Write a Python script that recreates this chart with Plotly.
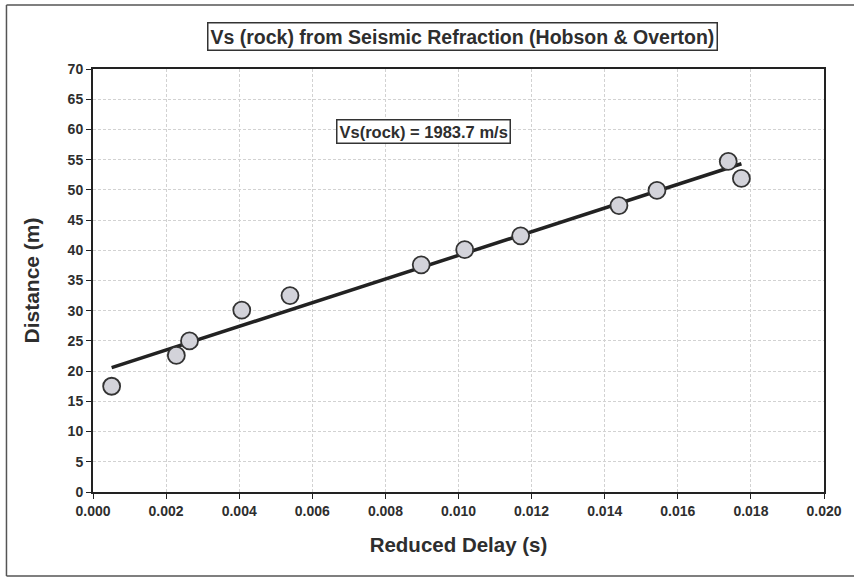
import numpy as np
import plotly.graph_objects as go

# Data
delay_s = [0.00051, 0.00228, 0.00264, 0.00407, 0.00539, 0.00898,
           0.01017, 0.01170, 0.01439, 0.01543, 0.01738, 0.01774]
distance_m = [17.5, 22.6, 25.0, 30.1, 32.5, 37.6,
              40.1, 42.4, 47.4, 49.9, 54.7, 51.9]
x_ticks = [0.000, 0.002, 0.004, 0.006, 0.008, 0.010, 0.012, 0.014, 0.016, 0.018, 0.020]
y_ticks = [0, 5, 10, 15, 20, 25, 30, 35, 40, 45, 50, 55, 60, 65, 70]
title_text = "Vs (rock) from Seismic Refraction (Hobson & Overton)"
fit_label = "Vs(rock) = 1983.7 m/s"

# Linear trendline (least squares), drawn across the data range
slope, intercept = np.polyfit(delay_s, distance_m, 1)
fit_x = [min(delay_s), max(delay_s)]
fit_y = [slope * v + intercept for v in fit_x]

FONT = "Liberation Sans, Arial, sans-serif"
TXT = "#2e2e2e"

fig = go.Figure()
fig.add_trace(go.Scatter(
    x=fit_x, y=fit_y, mode="lines",
    line=dict(color="#222222", width=3.5), showlegend=False, hoverinfo="skip"))
fig.add_trace(go.Scatter(
    x=delay_s, y=distance_m, mode="markers",
    marker=dict(size=17, color="#d3d3da", line=dict(color="#333333", width=1.8)),
    showlegend=False))

fig.update_layout(
    width=854, height=578,
    margin=dict(l=93, r=26, t=69, b=86),
    paper_bgcolor="white", plot_bgcolor="white",
    font=dict(family=FONT, color=TXT),
    showlegend=False,
)
fig.update_xaxes(
    range=[0, 0.020], tickvals=x_ticks, tickformat=".3f",
    tickfont=dict(family=FONT, size=14, color=TXT, weight="bold"),
    showgrid=True, gridcolor="#d2d2d2", griddash="3px,2px", gridwidth=1,
    showline=True, linecolor="#222222", linewidth=2, mirror=True,
    ticks="outside", ticklen=5, tickcolor="#222222",
    zeroline=False,
    title=dict(text="Reduced Delay (s)", font=dict(family=FONT, size=20.5, color=TXT, weight="bold"), standoff=20),
)
fig.update_yaxes(
    range=[0, 70], tickvals=y_ticks,
    tickfont=dict(family=FONT, size=14, color=TXT, weight="bold"),
    showgrid=True, gridcolor="#d2d2d2", griddash="3px,2px", gridwidth=1,
    showline=True, linecolor="#222222", linewidth=2, mirror=True,
    ticks="outside", ticklen=5, tickcolor="#222222",
    zeroline=False,
    title=dict(text="Distance (m)", font=dict(family=FONT, size=21, color=TXT, weight="bold"), standoff=22),
)

fig.add_annotation(
    xref="paper", yref="paper", x=0.505, y=1.0757,
    text="<b>" + title_text.replace("&", "&amp;") + "</b>", showarrow=False,
    font=dict(family=FONT, size=19.5, color=TXT),
    bordercolor="#333333", borderwidth=1.5, borderpad=2, bgcolor="white",
    xanchor="center", yanchor="middle")
fig.add_annotation(
    xref="paper", yref="paper", x=(425 - 93) / 735, y=(492 - 131) / 423,
    text="<b>" + fit_label + "</b>", showarrow=False,
    font=dict(family=FONT, size=16.5, color=TXT),
    bordercolor="#333333", borderwidth=1.5, borderpad=2, bgcolor="white",
    xanchor="center", yanchor="middle")

# outer chart frame: left, top and bottom edges only
fx0 = (6 - 93) / 735
fx1 = 1.5
fy0 = (492 - 576) / 423
fy1 = (492 - 5) / 423
frame_line = dict(color="#555555", width=1.5)
fig.add_shape(type="line", xref="paper", yref="paper", x0=fx0, x1=fx0, y0=fy0, y1=fy1, line=frame_line, layer="below")
fig.add_shape(type="line", xref="paper", yref="paper", x0=fx0, x1=fx1, y0=fy1, y1=fy1, line=frame_line, layer="below")
fig.add_shape(type="line", xref="paper", yref="paper", x0=fx0, x1=fx1, y0=fy0, y1=fy0, line=frame_line, layer="below")

fig.write_html("out.html",
               config={"displayModeBar": False},
               post_script="document.body.style.margin='0';document.body.style.overflow='hidden';")
